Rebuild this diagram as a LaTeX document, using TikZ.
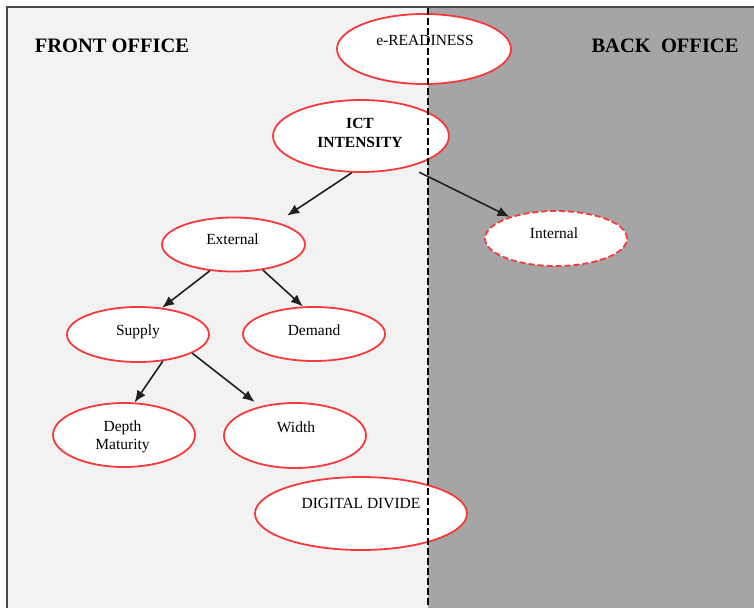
\documentclass[tikz,border=0pt]{standalone}
\usepackage{fontspec}
\setmainfont{Liberation Serif}
\usetikzlibrary{shapes.geometric,arrows.meta}
\definecolor{lightbg}{HTML}{F2F2F2}
\definecolor{darkbg}{HTML}{A5A5A5}
\definecolor{framec}{HTML}{4A4A4A}
\definecolor{ellred}{HTML}{F43A3A}
\definecolor{arrc}{HTML}{202020}
\tikzset{
  oval/.style={ellipse, draw=ellred, line width=1.8pt, fill=white, inner sep=0pt},
  ovaldash/.style={oval, dash pattern=on 6pt off 3pt},
  lbl/.style={anchor=base, inner sep=0pt, font=\fontsize{15.5}{18}\selectfont},
  blbl/.style={lbl, font=\fontsize{15.5}{18}\selectfont\bfseries},
  head/.style={anchor=base, inner sep=0pt, font=\fontsize{20.5}{24}\selectfont\bfseries},
  arr/.style={draw=arrc, line width=1.6pt, -{Latex[length=12pt,width=10pt]}},
}
\begin{document}
\begin{tikzpicture}[x=1pt,y=-1pt]
\useasboundingbox (0,0) rectangle (754,608);
% backgrounds
\fill[lightbg] (7,7) rectangle (428,608);
\fill[darkbg] (428,7) rectangle (754,608);
\draw[framec, line width=1.5pt] (7,608) -- (7,7) -- (754,7);
% headings
\node[head] (fo) at (112,52.3) {FRONT OFFICE};
\node[head] (bo) at (665,52.3) {BACK\ \ OFFICE};
% ellipses
\node[oval, minimum width=174pt, minimum height=70pt] (ready) at (424,49) {};
\node[oval, minimum width=176pt, minimum height=72pt] (ict) at (361,136) {};
\node[oval, minimum width=143pt, minimum height=54pt] (ext) at (233.5,244.5) {};
\node[ovaldash, minimum width=142pt, minimum height=55pt] (int) at (556,238.5) {};
\node[oval, minimum width=142pt, minimum height=55pt] (sup) at (138,334.5) {};
\node[oval, minimum width=142pt, minimum height=54pt] (dem) at (314,334) {};
\node[oval, minimum width=142pt, minimum height=64pt] (dep) at (124,435) {};
\node[oval, minimum width=142pt, minimum height=65pt] (wid) at (295,435.5) {};
\node[oval, minimum width=212pt, minimum height=73pt] (dd) at (361,513.5) {};
% texts
\node[lbl] (tready) at (425,45) {e-READINESS};
\node[blbl] (tict1) at (360,128.3) {ICT};
\node[blbl] (tict2) at (360,147.3) {INTENSITY};
\node[lbl] (text) at (232.5,244.3) {External};
\node[lbl] (tint) at (554,238.3) {Internal};
\node[lbl] (tsup) at (138,335.7) {Supply};
\node[lbl] (tdem) at (314,335.7) {Demand};
\node[lbl] (tdep1) at (122.5,431.7) {Depth};
\node[lbl] (tdep2) at (122.5,449) {Maturity};
\node[lbl] (twid) at (296,432.7) {Width};
\node[lbl] (tdd) at (361,508) {DIGITAL DIVIDE};
% dashed divider
\coordinate (dtop) at (428,8);
\coordinate (dbot) at (428,608);
\draw[black, line width=1.5pt, dash pattern=on 7pt off 3pt] (dtop) -- (dbot);
% arrows
\draw[arr, shorten >=12pt] (ict.256) -- (ext.27.6);
\draw[arr, shorten <=11.5pt] (ict.327.3) -- (int.155.5);
\draw[arr] (ext.228) -- (sup.48);
\draw[arr] (ext.319) -- (dem.112);
\draw[arr] (sup.313) -- (dep.72);
\draw[arr, shorten >=7pt] (sup.341) -- (wid.140.6);
\end{tikzpicture}
\end{document}
